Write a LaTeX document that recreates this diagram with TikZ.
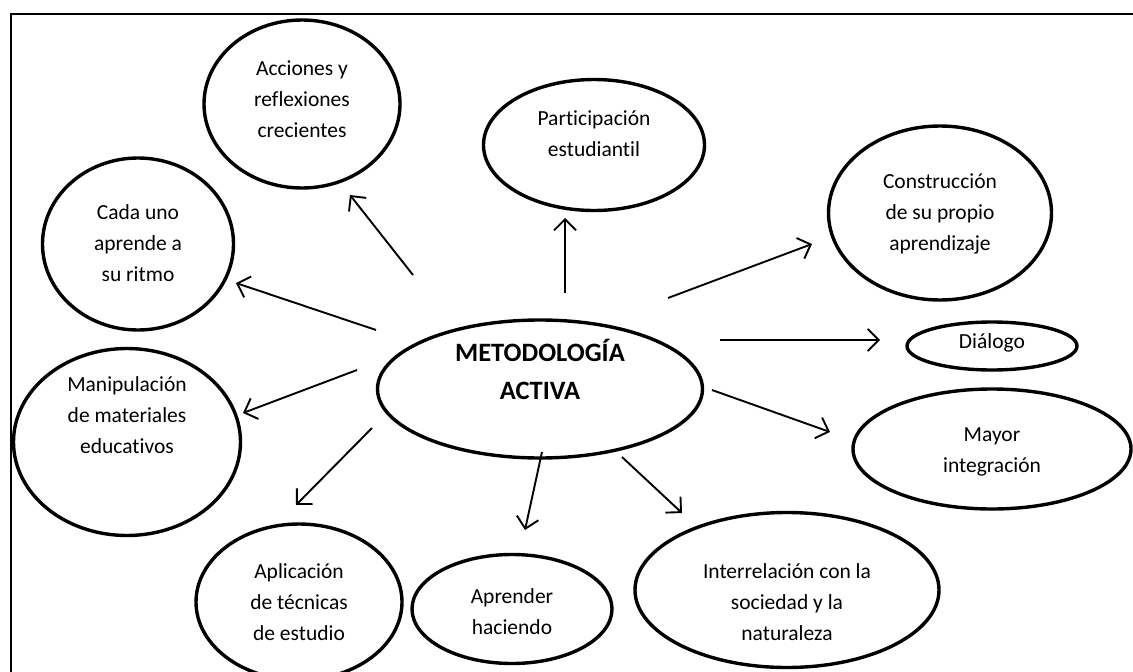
\documentclass[tikz,border=0pt]{standalone}
\usepackage{fontspec}
\setmainfont{Carlito}[Ligatures=NoCommon]
\usetikzlibrary{shapes.geometric,arrows.meta}
\begin{document}
\begin{tikzpicture}[x=1pt,y=-1pt,
  ell/.style={draw=black,ellipse,line width=3.4pt,inner sep=0pt},
  txt/.style={align=center,font=\fontsize{21.5}{31}\selectfont},
  arr/.style={line width=1.9pt,-{Straight Barb[length=11pt,width=22pt,line width=1.9pt]}}]
\useasboundingbox (0,0) rectangle (1133,672);
\fill[white] (0,0) rectangle (1133,672);
\draw[line width=1.8pt] (11,690) -- (11,14) -- (1140,14);
% ellipses
\node[ell,minimum width=196pt,minimum height=168pt] (acc) at (302,104) {};
\node[ell,minimum width=221pt,minimum height=131pt] (par) at (594,145) {};
\node[ell,minimum width=223pt,minimum height=174pt] (con) at (940,213) {};
\node[ell,minimum width=191pt,minimum height=172pt] (cad) at (138,244) {};
\node[ell,minimum width=325pt,minimum height=138pt] (met) at (540,389) {};
\node[ell,minimum width=170pt,minimum height=48pt] (dia) at (992,346) {};
\node[ell,minimum width=278pt,minimum height=120pt] (may) at (992,449) {};
\node[ell,minimum width=227pt,minimum height=187pt] (man) at (127,442) {};
\node[ell,minimum width=206pt,minimum height=156pt] (apl) at (299,602) {};
\node[ell,minimum width=200pt,minimum height=109pt] (apr) at (512,609) {};
\node[ell,minimum width=304pt,minimum height=155pt] (int) at (787,590) {};
% texts
\node[txt] (accT) at (302,99) {Acciones y\\reflexiones\\crecientes};
\node[txt] (parT) at (594,134) {Participación\\estudiantil};
\node[txt] (conT) at (940,214) {Construcción\\de su propio\\aprendizaje};
\node[txt] (cadT) at (138,243) {Cada uno\\aprende a\\su ritmo};
\node[align=center,font=\fontsize{26.5}{38}\selectfont\bfseries] (metT) at (540,369) {METODOLOGÍA\\ACTIVA};
\node[txt] (diaT) at (992,343) {Diálogo};
\node[txt] (mayT) at (992,452) {Mayor\\integración};
\node[txt] (manT) at (127,415) {Manipulación\\de materiales\\educativos};
\node[txt] (aplT) at (299,602) {Aplicación\\de técnicas\\de estudio};
\node[txt] (aprT) at (512,612) {Aprender\\haciendo};
\node[txt] (intT) at (787,602) {Interrelación con la\\sociedad y la\\naturaleza};
% arrow ends
\coordinate (s1) at (413,275); \coordinate (e1) at (350,195);
\coordinate (s2) at (565,293); \coordinate (e2) at (565,218);
\coordinate (s3) at (668,298); \coordinate (e3) at (812,244);
\coordinate (s4) at (376,330); \coordinate (e4) at (236,283);
\coordinate (s5) at (720,340); \coordinate (e5) at (880,340);
\coordinate (s6) at (357,370); \coordinate (e6) at (243,413);
\coordinate (s7) at (712,390); \coordinate (e7) at (830,432);
\coordinate (s8) at (372,428); \coordinate (e8) at (296,505);
\coordinate (s9) at (542,452); \coordinate (e9) at (525,530);
\coordinate (s10) at (622,457); \coordinate (e10) at (682,513);
\foreach \i in {1,...,10} {\draw[arr] (s\i) -- (e\i);}
\end{tikzpicture}
\end{document}
